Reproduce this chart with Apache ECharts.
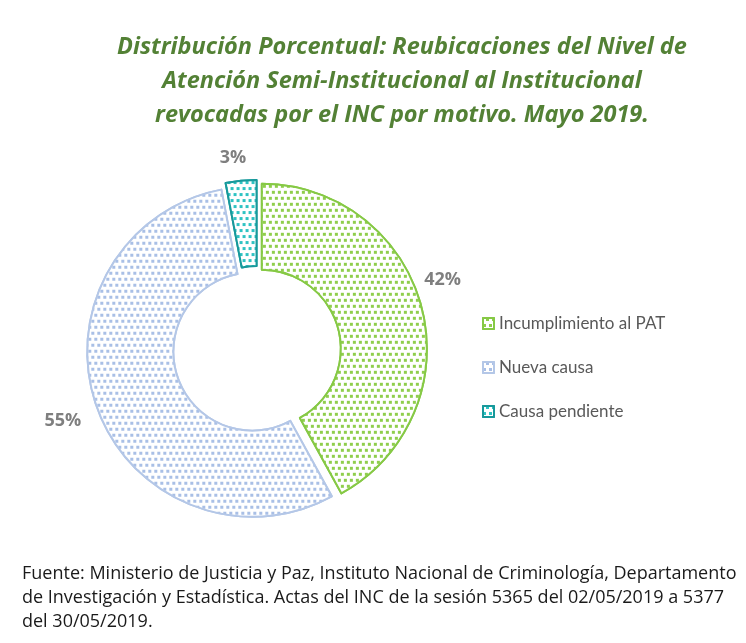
<!DOCTYPE html>
<html>
<head>
<meta charset="utf-8">
<script src="https://cdn.jsdelivr.net/npm/echarts@6/dist/echarts.min.js"></script>
<style>
	html, body { margin: 0; padding: 0; background: #fff; }
	#chart { width: 746px; height: 643px; }
</style>
</head>
<body>
<div id="chart"></div>
<script>
// datos del gráfico
let categorias = ["Incumplimiento al PAT", "Nueva causa", "Causa pendiente"];
let porcentajes = [42, 55, 3];

let titulo = "Distribución Porcentual: Reubicaciones del Nivel de\nAtención Semi-Institucional al Institucional\nrevocadas por el INC por motivo. Mayo 2019.";
let fuente = "Fuente: Ministerio de Justicia y Paz, Instituto Nacional de Criminología, Departamento\nde Investigación y Estadística. Actas del INC de la sesión 5365 del 02/05/2019 a 5377\ndel 30/05/2019.";

// colores: trama y borde de cada sector
let tramas = ["#8fce4c", "#a9bfe6", "#2fc3c3"];
let bordes = ["#86c945", "#b4c7e7", "#17999b"];
// ajuste fino de las etiquetas (Excel las coloca "mejor ajuste")
let ajusteEtiquetas = [[-9, -20], [-5, 3], [-5, 8]];

let chart = echarts.init(document.getElementById("chart"));

function decal(color) {
	return {
		symbol: "rect",
		symbolSize: 1,
		color: color,
		backgroundColor: "#ffffff",
		dashArrayX: [[3, 3], [0, 3, 3, 0]],
		dashArrayY: [3, 2.5],
		rotation: 0
	};
}

let datosPie = categorias.map(function (c, i) {
	return {
		name: c,
		value: porcentajes[i],
		selected: true,
		itemStyle: {
			color: "#ffffff",
			borderColor: bordes[i],
			borderWidth: 2,
			decal: decal(tramas[i])
		}
	};
});

let datosEtiquetas = categorias.map(function (c, i) {
	return {
		name: c,
		value: porcentajes[i],
		label: { offset: ajusteEtiquetas[i] }
	};
});

let option = {
	backgroundColor: "#ffffff",
	animation: false,
	title: [
		{
			text: titulo,
			left: 397,
			top: 25,
			textAlign: "center",
			textStyle: {
				fontFamily: "Open Sans",
				fontStyle: "italic",
				fontWeight: "bold",
				fontSize: 23.5,
				lineHeight: 34,
				color: "#538135"
			}
		},
		{
			text: fuente,
			left: 17,
			top: 557,
			textStyle: {
				fontFamily: "Open Sans",
				fontWeight: "normal",
				fontSize: 18,
				lineHeight: 24,
				color: "#1a1a1a"
			}
		}
	],
	legend: {
		orient: "vertical",
		left: 477,
		top: 310,
		itemWidth: 11,
		itemHeight: 11,
		itemGap: 27,
		icon: "rect",
		selectedMode: false,
		data: categorias,
		textStyle: {
			fontFamily: "Lato",
			fontSize: 17,
			color: "#595959"
		}
	},
	series: [
		{
			name: "Motivo",
			type: "pie",
			center: [257, 350],
			radius: [79, 165],
			startAngle: 90,
			clockwise: true,
			selectedMode: "multiple",
			selectedOffset: 5,
			silent: true,
			label: { show: false },
			labelLine: { show: false },
			emphasis: { disabled: true },
			data: datosPie
		},
		{
			// serie invisible solo para ubicar las etiquetas de porcentaje
			name: "Etiquetas",
			type: "pie",
			center: [257, 350],
			radius: [190, 206],
			startAngle: 90,
			clockwise: true,
			silent: true,
			legendHoverLink: false,
			itemStyle: { color: "rgba(0,0,0,0)" },
			emphasis: { disabled: true },
			labelLine: { show: false },
			label: {
				show: true,
				position: "inside",
				formatter: "{c}%",
				fontFamily: "Open Sans",
				fontWeight: "bold",
				fontSize: 18,
				color: "#7f7f7f"
			},
			data: datosEtiquetas
		}
	]
};

chart.setOption(option);
</script>
</body>
</html>
